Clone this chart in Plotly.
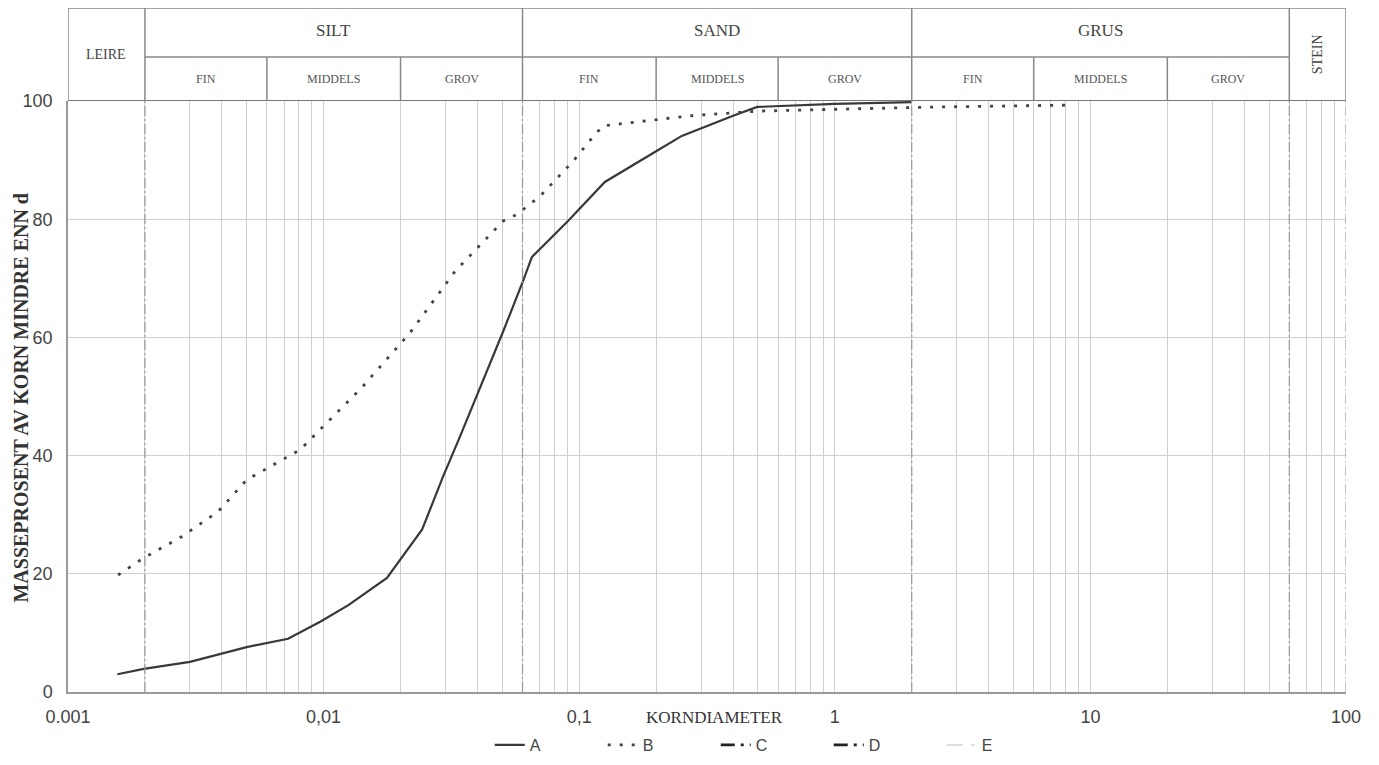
import math
import plotly.graph_objects as go

# ---------------- data ----------------
a_d = [0.00156, 0.00198, 0.0030, 0.00386, 0.0050, 0.00726, 0.0097, 0.0125, 0.0177,
       0.0243, 0.0293, 0.034, 0.041, 0.0504, 0.060, 0.0653, 0.0904, 0.1026, 0.126,
       0.20, 0.252, 0.40, 0.497, 1.0, 2.0]
a_pct = [3.0, 3.9, 5.1, 6.3, 7.6, 9.0, 11.9, 14.7, 19.3,
         27.5, 36.4, 43.0, 51.5, 61.0, 69.3, 73.6, 79.7, 82.2, 86.3,
         91.5, 94.1, 97.5, 99.0, 99.5, 99.8]

b_d = [0.00157, 0.00198, 0.00279, 0.00386, 0.0050, 0.0072, 0.0081, 0.0141, 0.0199,
       0.0218, 0.0327, 0.0504, 0.057, 0.0703, 0.0946, 0.113, 0.124, 0.184, 0.271,
       0.40, 0.509, 1.0, 2.58, 8.07]
b_pct = [19.8, 22.7, 26.3, 30.5, 35.9, 39.7, 41.0, 51.5, 58.8,
         60.8, 71.2, 79.7, 80.8, 83.9, 89.8, 93.9, 95.8, 96.6, 97.5,
         98.0, 98.3, 98.6, 99.0, 99.3]

series_names = ["A", "B", "C", "D", "E"]

# soil classes (mm)
main_classes = ["LEIRE", "SILT", "SAND", "GRUS", "STEIN"]
main_bounds = [0.001, 0.002, 0.06, 2, 60, 100]
sub_classes = ["FIN", "MIDDELS", "GROV"] * 3
sub_bounds = [0.002, 0.006, 0.02, 0.06, 0.2, 0.6, 2, 6, 20, 60]

x_tick_vals = [0.001, 0.01, 0.1, 1, 10, 100]
x_tick_text = ["0.001", "0,01", "0,1", "1", "10", "100"]
y_tick_vals = [0, 20, 40, 60, 80, 100]

# ---------------- figure ----------------
grid_vals = []
for e in range(-3, 2):
    for m in range(1, 10):
        grid_vals.append(round(m * 10 ** e, 6))
grid_vals.append(100)
grid_text = []
for v in grid_vals:
    if v in x_tick_vals:
        grid_text.append(x_tick_text[x_tick_vals.index(v)])
    else:
        grid_text.append("")

fig = go.Figure()
fig.add_trace(go.Scatter(x=a_d, y=a_pct, mode="lines", name=series_names[0],
                         line=dict(color="#383838", width=2.2)))
fig.add_trace(go.Scatter(x=b_d, y=b_pct, mode="lines", name=series_names[1],
                         line=dict(color="#444444", width=2.8, dash="3px,9px")))
fig.add_trace(go.Scatter(x=[None], y=[None], mode="lines", name=series_names[2],
                         line=dict(color="#222222", width=2.6, dash="14px,6px,3px,6px,3px,6px")))
fig.add_trace(go.Scatter(x=[None], y=[None], mode="lines", name=series_names[3],
                         line=dict(color="#222222", width=2.6, dash="14px,6px,3px,6px")))
fig.add_trace(go.Scatter(x=[None], y=[None], mode="lines", name=series_names[4],
                         line=dict(color="#dddddd", width=2, dash="16px,8px,4px,8px")))

HDR_TOP = 93
HDR_MID = 44
serif = "Liberation Serif"
sans = "Liberation Sans"
hdr_col = "#888888"

shapes = []
annotations = []
# header frame
shapes.append(dict(type="rect", xref="x2", yref="y2", x0=-3, x1=2, y0=0, y1=HDR_TOP,
                   line=dict(color=hdr_col, width=1.5)))
shapes.append(dict(type="line", xref="x2", yref="y2", x0=-3, x1=2, y0=0, y1=0,
                   line=dict(color="#777777", width=2)))
# main class boundaries (full header height)
for b in main_bounds[1:-1]:
    shapes.append(dict(type="line", xref="x2", yref="y2", x0=math.log10(b), x1=math.log10(b),
                       y0=0, y1=HDR_TOP, line=dict(color=hdr_col, width=1.5)))
# mid horizontal line
shapes.append(dict(type="line", xref="x2", yref="y2", x0=math.log10(main_bounds[1]),
                   x1=math.log10(main_bounds[4]), y0=HDR_MID, y1=HDR_MID,
                   line=dict(color=hdr_col, width=1.5)))
# sub boundaries
for b in sub_bounds[1:-1]:
    if b in main_bounds:
        continue
    shapes.append(dict(type="line", xref="x2", yref="y2", x0=math.log10(b), x1=math.log10(b),
                       y0=0, y1=HDR_MID, line=dict(color=hdr_col, width=1.5)))
# boundaries inside plot (darker dashed)
for b in main_bounds[1:]:
    shapes.append(dict(type="line", xref="x2", yref="y", x0=math.log10(b), x1=math.log10(b),
                       y0=0, y1=100, line=dict(color="#9a9a9a", width=1.2, dash="10px,3px,2px,3px")))

# header labels
for i, name in enumerate(main_classes):
    lo, hi = math.log10(main_bounds[i]), math.log10(main_bounds[i + 1])
    if name in ("LEIRE", "STEIN"):
        annotations.append(dict(xref="x2", yref="y2", x=(lo + hi) / 2, y=HDR_TOP / 2,
                                text=name, showarrow=False,
                                textangle=-90 if name == "STEIN" else 0,
                                font=dict(family=serif, size=14, color="#444")))
    else:
        annotations.append(dict(xref="x2", yref="y2", x=(lo + hi) / 2, y=(HDR_TOP + HDR_MID) / 2 + 2,
                                text=name, showarrow=False,
                                font=dict(family=serif, size=17, color="#444")))
for i, name in enumerate(sub_classes):
    lo, hi = math.log10(sub_bounds[i]), math.log10(sub_bounds[i + 1])
    annotations.append(dict(xref="x2", yref="y2", x=(lo + hi) / 2, y=HDR_MID / 2,
                            text=name, showarrow=False,
                            font=dict(family=serif, size=12, color="#555")))

# axis titles
annotations.append(dict(xref="paper", yref="paper", x=0.506, y=-0.038, text="KORNDIAMETER",
                        showarrow=False, xanchor="center", yanchor="middle",
                        font=dict(family=serif, size=17, color="#333")))
annotations.append(dict(xref="paper", yref="paper", x=-0.0365, y=0.431,
                        text="<b>MASSEPROSENT AV KORN MINDRE ENN d</b>", textangle=-90,
                        showarrow=False, xanchor="center", yanchor="middle",
                        font=dict(family=serif, size=20, color="#333")))

# page body has an 8px margin; compensate so the chart lands at the reference position
fig.update_layout(
    width=1371, height=757,
    margin=dict(l=60, r=33, t=0, b=73, autoexpand=False),
    paper_bgcolor="white", plot_bgcolor="white",
    showlegend=True,
    legend=dict(orientation="h", x=0.33, y=-0.0775, xanchor="left", yanchor="middle",
                font=dict(family=sans, size=16, color="#444"),
                entrywidth=68, entrywidthmode="pixels", bgcolor="rgba(0,0,0,0)"),
    xaxis=dict(type="log", range=[-3, 2], domain=[0, 1], anchor="y",
               tickvals=grid_vals, ticktext=grid_text, ticks="",
               showgrid=True, gridcolor="#cfcfcf", gridwidth=1,
               showline=True, linecolor="#999999", linewidth=1.5,
               zeroline=False, ticklabelstandoff=8, automargin=False,
               tickfont=dict(family=sans, size=18, color="#444")),
    yaxis=dict(range=[0, 100], domain=[0, 0.864], anchor="x",
               tickvals=y_tick_vals, ticks="",
               showgrid=True, gridcolor="#cfcfcf", gridwidth=1,
               showline=True, linecolor="#999999", linewidth=1.5,
               zeroline=False, ticklabelstandoff=10, automargin=False,
               tickfont=dict(family=sans, size=18, color="#444")),
    xaxis2=dict(range=[-3, 2], domain=[0, 1], anchor="y2", visible=False),
    yaxis2=dict(range=[0, HDR_TOP], domain=[0.864, 1], anchor="x2", visible=False),
    shapes=shapes,
    annotations=annotations,
)

fig.write_html("out.html")
